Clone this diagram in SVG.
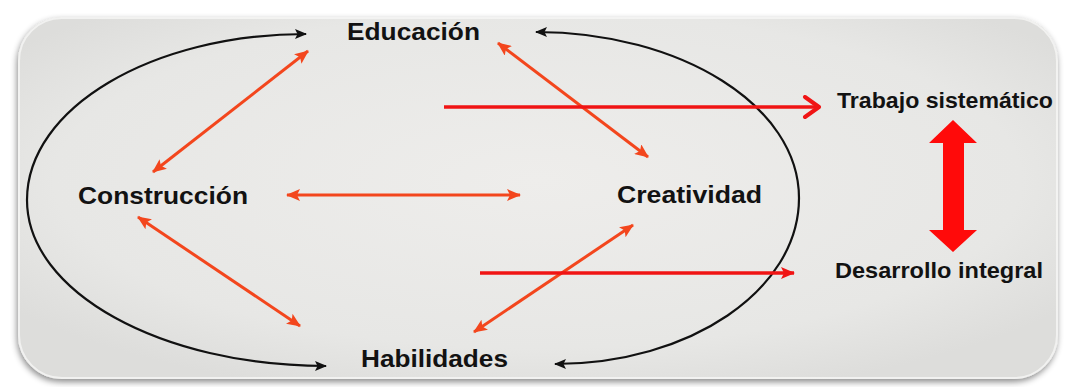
<svg xmlns="http://www.w3.org/2000/svg" width="1065" height="387" viewBox="0 0 1065 387">
<defs>
<radialGradient id="bg" cx="0.5" cy="0.45" r="0.62">
<stop offset="0" stop-color="#eeedeb"/>
<stop offset="0.75" stop-color="#e7e7e5"/>
<stop offset="1" stop-color="#dddddb"/>
</radialGradient>
<filter id="sh" x="-5%" y="-10%" width="110%" height="125%">
<feDropShadow dx="-1" dy="3" stdDeviation="3" flood-color="#000" flood-opacity="0.45"/>
</filter>
<marker id="oh" viewBox="0 0 14 12" refX="13" refY="6" markerWidth="14" markerHeight="12" markerUnits="userSpaceOnUse" orient="auto-start-reverse">
<path d="M0,0 L14,6 L0,12 L3,6 Z" fill="#f3461d"/>
</marker>
<marker id="bh" viewBox="0 0 12 10" refX="11" refY="5" markerWidth="12" markerHeight="10" markerUnits="userSpaceOnUse" orient="auto-start-reverse">
<path d="M0,0 L12,5 L0,10 L2.5,5 Z" fill="#111"/>
</marker>
<marker id="rch" viewBox="0 0 20 24" refX="18" refY="12" markerWidth="20" markerHeight="24" markerUnits="userSpaceOnUse" orient="auto">
<path d="M3,2 L17,12 L3,22" fill="none" stroke="#f01414" stroke-width="4" stroke-linecap="round" stroke-linejoin="round"/>
</marker>
<marker id="rth" viewBox="0 0 14 14" refX="13" refY="7" markerWidth="14" markerHeight="14" markerUnits="userSpaceOnUse" orient="auto">
<path d="M0,1 L14,7 L0,13 L3,7 Z" fill="#f01414"/>
</marker>
<style>
.lbl{font-family:"Liberation Sans",Arial,sans-serif;font-weight:bold;fill:#121212;}
.main{font-size:24px;}
.side{font-size:22px;}
.or{stroke:#f3461d;stroke-width:3;fill:none;marker-start:url(#oh);marker-end:url(#oh);}
.bk{stroke:#111;stroke-width:2.2;fill:none;marker-start:url(#bh);marker-end:url(#bh);}
.rd{stroke:#f01414;stroke-width:3.5;fill:none;}
</style>
</defs>
<rect x="0" y="0" width="1065" height="387" fill="#ffffff"/>
<rect id="panel" x="18" y="17" width="1040" height="362" rx="44" ry="44" fill="url(#bg)" filter="url(#sh)"/>
<rect x="19" y="18" width="1038" height="360" rx="43" ry="43" fill="none" stroke="#f6f6f5" stroke-width="2" opacity="0.8"/>

<g id="connectors">
<path class="bk" d="M306,34 C152,34 27,108 27,200 C27,292 161,366 326,366"/>
<path class="bk" d="M536,32 C681,32 799,106 799,198 C799,290 690,364 555,364"/>
<line class="or" x1="153" y1="172" x2="308" y2="51"/>
<line class="or" x1="138" y1="217" x2="300" y2="326"/>
<line class="or" x1="498" y1="43" x2="648" y2="157"/>
<line class="or" x1="633" y1="225" x2="474" y2="332"/>
<line class="or" x1="287" y1="195" x2="520" y2="195"/>
<line class="rd" x1="444" y1="107" x2="820" y2="107" marker-end="url(#rch)"/>
<line class="rd" x1="480" y1="273" x2="794" y2="273" marker-end="url(#rth)"/>
<polygon id="bigarrow" points="953,120 977,143 964,143 964,230 977,230 953,252 929,230 943,230 943,143 929,143" fill="#ff0a0a"/>
</g>

<g id="educacion"><text class="lbl main" x="347" y="40" textLength="133" lengthAdjust="spacingAndGlyphs">Educación</text></g>
<g id="construccion"><text class="lbl main" x="78" y="204" textLength="170" lengthAdjust="spacingAndGlyphs">Construcción</text></g>
<g id="creatividad"><text class="lbl main" x="617" y="203" textLength="145" lengthAdjust="spacingAndGlyphs">Creatividad</text></g>
<g id="habilidades"><text class="lbl main" x="361" y="367" textLength="147" lengthAdjust="spacingAndGlyphs">Habilidades</text></g>
<g id="trabajo"><text class="lbl side" x="837" y="108" textLength="216" lengthAdjust="spacingAndGlyphs">Trabajo sistemático</text></g>
<g id="desarrollo"><text class="lbl side" x="835" y="278" textLength="208" lengthAdjust="spacingAndGlyphs">Desarrollo integral</text></g>
</svg>
